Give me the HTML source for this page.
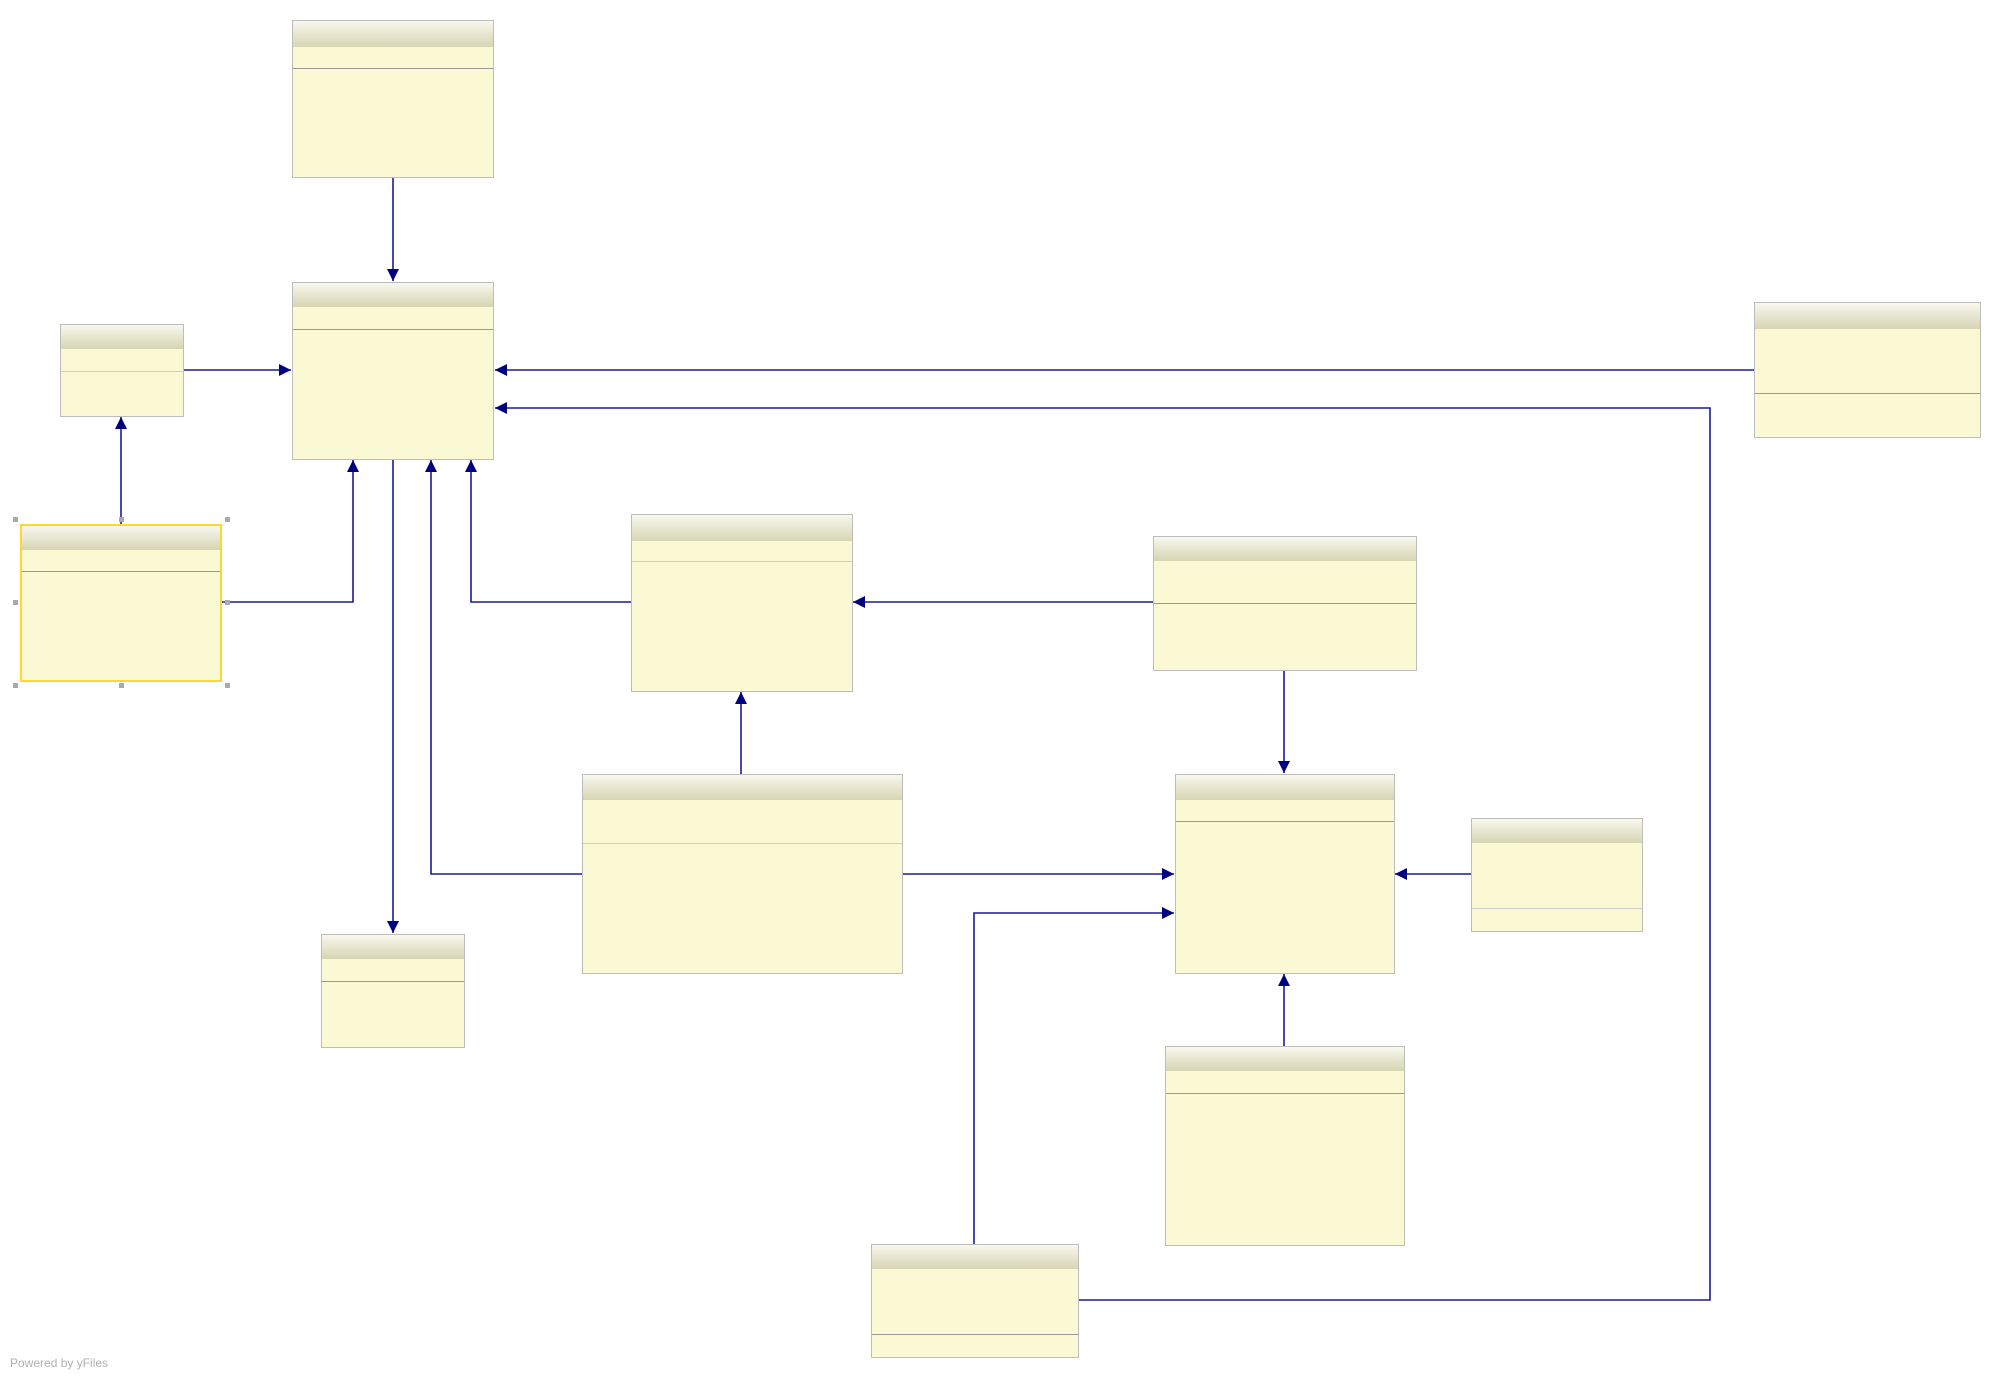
<!DOCTYPE html>
<html><head><meta charset="utf-8"><style>
html,body{margin:0;padding:0;background:#fff;width:2000px;height:1379px;overflow:hidden}
svg{display:block}
</style></head><body>
<svg width="2000" height="1379" viewBox="0 0 2000 1379" xmlns="http://www.w3.org/2000/svg">
<defs>
<linearGradient id="hg" x1="0" y1="0" x2="0" y2="1">
<stop offset="0" stop-color="#f8f8ee"/><stop offset="1" stop-color="#d6d5b3"/>
</linearGradient>
<marker id="ar" viewBox="0 0 12 12" refX="12" refY="6" markerWidth="12" markerHeight="12" markerUnits="userSpaceOnUse" orient="auto">
<path d="M0,0 L12,6 L0,12 Z" fill="#000080"/>
</marker>
</defs>
<g fill="none" stroke="#1a1a9a" stroke-width="1.6" marker-end="url(#ar)">
<path d="M393,177 V281"/>
<path d="M184,370 H291"/>
<path d="M1754,370 H495"/>
<path d="M1078,1300 H1710 V408 H495"/>
<path d="M121,524 V417"/>
<path d="M222,602 H353 V460"/>
<path d="M393,459 V933"/>
<path d="M582,874 H431 V460"/>
<path d="M631,602 H471 V460"/>
<path d="M1153,602 H853"/>
<path d="M741,774 V692"/>
<path d="M1284,670 V773"/>
<path d="M902,874 H1174"/>
<path d="M974,1244 V913 H1174"/>
<path d="M1471,874 H1395"/>
<path d="M1284,1046 V974"/>
</g>
<g id="boxes">
<!-- x,y,w,h, header bottom, sep -->
</g>
<g stroke-width="1">
<!-- A -->
<rect x="292.5" y="20.5" width="201" height="157" fill="#fbf9d3" stroke="#bdbdbd"/><rect x="293" y="21" width="200" height="26" fill="url(#hg)"/><line x1="293" y1="68.5" x2="493" y2="68.5" stroke="#999"/>
<!-- B -->
<rect x="292.5" y="282.5" width="201" height="177" fill="#fbf9d3" stroke="#bdbdbd"/><rect x="293" y="283" width="200" height="24" fill="url(#hg)"/><line x1="293" y1="329.5" x2="493" y2="329.5" stroke="#999"/>
<!-- C -->
<rect x="60.5" y="324.5" width="123" height="92" fill="#fbf9d3" stroke="#bdbdbd"/><rect x="61" y="325" width="122" height="24" fill="url(#hg)"/><line x1="61" y1="371.5" x2="183" y2="371.5" stroke="#ccc"/>
<!-- D selected -->
<rect x="21" y="525" width="200" height="156" fill="#fbf9d3" stroke="#ffd633" stroke-width="2"/><rect x="22" y="526" width="198" height="24" fill="url(#hg)"/><line x1="22" y1="571.5" x2="220" y2="571.5" stroke="#999"/>
<!-- E -->
<rect x="631.5" y="514.5" width="221" height="177" fill="#fbf9d3" stroke="#bdbdbd"/><rect x="632" y="515" width="220" height="26" fill="url(#hg)"/><line x1="632" y1="561.5" x2="852" y2="561.5" stroke="#ccc"/>
<!-- F -->
<rect x="1153.5" y="536.5" width="263" height="134" fill="#fbf9d3" stroke="#bdbdbd"/><rect x="1154" y="537" width="262" height="24" fill="url(#hg)"/><line x1="1154" y1="603.5" x2="1416" y2="603.5" stroke="#999"/>
<!-- G -->
<rect x="1754.5" y="302.5" width="226" height="135" fill="#fbf9d3" stroke="#bdbdbd"/><rect x="1755" y="303" width="225" height="26" fill="url(#hg)"/><line x1="1755" y1="393.5" x2="1980" y2="393.5" stroke="#999"/>
<!-- H -->
<rect x="582.5" y="774.5" width="320" height="199" fill="#fbf9d3" stroke="#bdbdbd"/><rect x="583" y="775" width="319" height="25" fill="url(#hg)"/><line x1="583" y1="843.5" x2="902" y2="843.5" stroke="#ccc"/>
<!-- I -->
<rect x="1175.5" y="774.5" width="219" height="199" fill="#fbf9d3" stroke="#bdbdbd"/><rect x="1176" y="775" width="218" height="25" fill="url(#hg)"/><line x1="1176" y1="821.5" x2="1394" y2="821.5" stroke="#999"/>
<!-- J -->
<rect x="1471.5" y="818.5" width="171" height="113" fill="#fbf9d3" stroke="#bdbdbd"/><rect x="1472" y="819" width="170" height="24" fill="url(#hg)"/><line x1="1472" y1="908.5" x2="1642" y2="908.5" stroke="#ccc"/>
<!-- K -->
<rect x="321.5" y="934.5" width="143" height="113" fill="#fbf9d3" stroke="#bdbdbd"/><rect x="322" y="935" width="142" height="24" fill="url(#hg)"/><line x1="322" y1="981.5" x2="464" y2="981.5" stroke="#999"/>
<!-- L -->
<rect x="1165.5" y="1046.5" width="239" height="199" fill="#fbf9d3" stroke="#bdbdbd"/><rect x="1166" y="1047" width="238" height="24" fill="url(#hg)"/><line x1="1166" y1="1093.5" x2="1404" y2="1093.5" stroke="#999"/>
<!-- M -->
<rect x="871.5" y="1244.5" width="207" height="113" fill="#fbf9d3" stroke="#bdbdbd"/><rect x="872" y="1245" width="206" height="24" fill="url(#hg)"/><line x1="872" y1="1334.5" x2="1078" y2="1334.5" stroke="#999"/>
</g>
<g fill="#aaa">
<rect x="13" y="517" width="5" height="5"/><rect x="119" y="517" width="5" height="5"/><rect x="225" y="517" width="5" height="5"/>
<rect x="13" y="600" width="5" height="5"/><rect x="225" y="600" width="5" height="5"/>
<rect x="13" y="683" width="5" height="5"/><rect x="119" y="683" width="5" height="5"/><rect x="225" y="683" width="5" height="5"/>
</g>
<text x="10" y="1367" font-family="Liberation Sans, sans-serif" font-size="12" fill="#b0b0b0">Powered by yFiles</text>
</svg>
</body></html>
